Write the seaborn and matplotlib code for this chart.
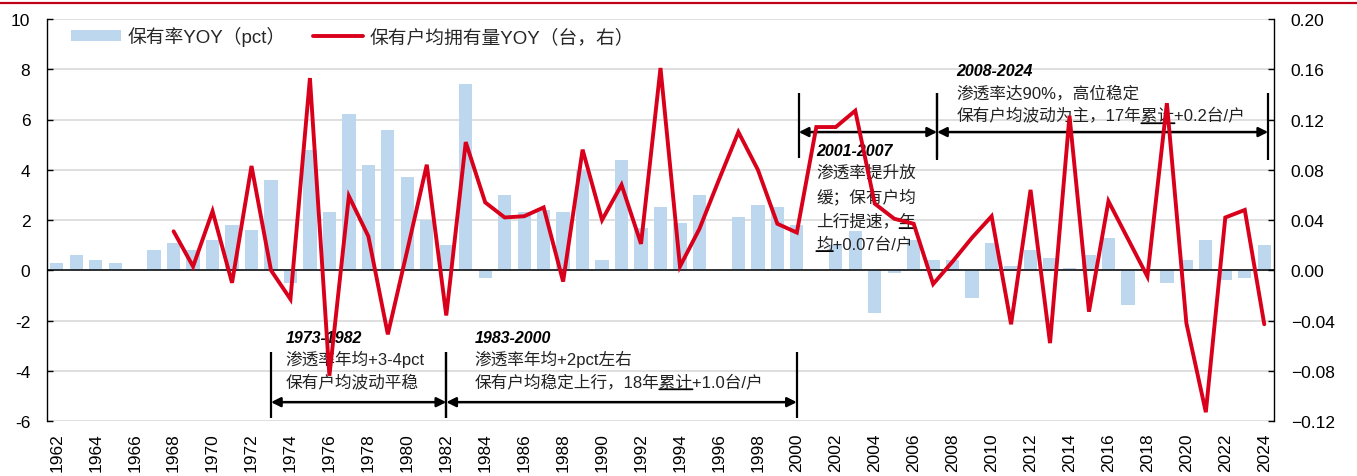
import matplotlib
matplotlib.use("Agg")
import matplotlib.pyplot as plt
import seaborn as sns
import pandas as pd
from matplotlib.patches import Patch
from matplotlib.lines import Line2D
from matplotlib.ticker import FuncFormatter

# ---------------- data ----------------
years = list(range(1962, 2025))
rate_yoy = [0.3, 0.6, 0.4, 0.3, 0.0, 0.8, 1.1, 0.8, 1.2, 1.8,
            1.6, 3.6, -0.5, 4.8, 2.3, 6.2, 4.2, 5.6, 3.7, 2.0,
            1.0, 7.4, -0.3, 3.0, 2.3, 2.4, 2.3, 4.0, 0.4, 4.4,
            1.7, 2.5, 1.9, 3.0, 0.0, 2.1, 2.6, 2.5, 1.8, 0.0,
            1.0, 1.55, -1.7, -0.1, 1.2, 0.4, 0.4, -1.1, 1.1, 0.15,
            0.8, 0.5, 0.1, 0.6, 1.3, -1.4, 0.0, -0.5, 0.4, 1.2,
            -0.4, -0.3, 1.0]

line_years = list(range(1968, 2025))
per_hh_yoy = [0.031, 0.003, 0.047, -0.010, 0.083, 0.000, -0.023, 0.153, -0.084, 0.059,
              0.027, -0.051, 0.016, 0.084, -0.036, 0.102, 0.054, 0.042, 0.043, 0.050,
              -0.009, 0.096, 0.040, 0.068, 0.021, 0.161, 0.003, 0.033, 0.072, 0.110,
              0.080, 0.037, 0.030, 0.114, 0.114, 0.127, 0.053, 0.041, 0.037, -0.011,
              0.007, 0.026, 0.043, -0.043, 0.064, -0.058, 0.123, -0.033, 0.055, 0.025,
              -0.005, 0.133, -0.042, -0.113, 0.042, 0.048, -0.043]

x_ticks = list(range(1962, 2025, 2))
left_ticks = [-6, -4, -2, 0, 2, 4, 6, 8, 10]
right_ticks = [-0.12, -0.08, -0.04, 0.00, 0.04, 0.08, 0.12, 0.16, 0.20]

bar_label = "保有率YOY（pct）"
line_label = "保有户均拥有量YOY（台，右）"

# ---------------- style ----------------
BAR_C = "#BDD7EE"
LINE_C = "#D9001B"
TXT_C = "#222222"

sns.set_theme(style="white")
plt.rcParams["font.family"] = ["Liberation Sans", "Noto Sans CJK SC", "DejaVu Sans"]
plt.rcParams["axes.unicode_minus"] = True

fig = plt.figure(figsize=(13.57, 4.77), dpi=100)
ax = fig.add_axes([47 / 1357, 55 / 477, 1227 / 1357, 402 / 477])

df_bar = pd.DataFrame({"year": years, "rate": rate_yoy})
sns.barplot(data=df_bar, x="year", y="rate", native_scale=True, width=0.68,
            color=BAR_C, saturation=1, errorbar=None, linewidth=0, ax=ax, zorder=2)

ax.set_xlim(1961.5, 2024.5)
ax.set_ylim(-6, 10)
ax.set_yticks(left_ticks)
ax.set_yticklabels([str(v) for v in left_ticks])
ax.grid(axis="y", color="#D9D9D9", lw=1.2)
ax.grid(axis="x", visible=False)
ax.set_axisbelow(True)
ax.axhline(0, color="black", lw=1.1, zorder=3)
ax.set_xticks(x_ticks)
ax.set_xticklabels([str(v) for v in x_ticks], rotation=90)
ax.tick_params(axis="x", length=0, pad=8, labelsize=12.5, colors="black")
ax.tick_params(axis="y", direction="in", length=4, width=1, pad=12,
               labelsize=12.5, colors="black", left=True)
ax.set_xlabel("")
ax.set_ylabel("")
for s in ["top", "bottom", "right"]:
    ax.spines[s].set_visible(False)
ax.spines["left"].set_color("black")
ax.spines["left"].set_linewidth(1)

ax2 = ax.twinx()
sns.lineplot(x=line_years, y=per_hh_yoy, ax=ax2, color=LINE_C, lw=2.8,
             solid_joinstyle="miter")
ax2.set_ylim(-0.12, 0.20)
ax2.set_yticks(right_ticks)
ax2.yaxis.set_major_formatter(FuncFormatter(lambda v, p: f"{v:.2f}".replace("-", "−")))
ax2.tick_params(axis="y", direction="in", length=4, width=1, pad=12,
                labelsize=12.5, colors="black", right=True)
ax2.grid(False)
ax2.set_ylabel("")
for s in ["top", "bottom", "left"]:
    ax2.spines[s].set_visible(False)
ax2.spines["right"].set_color("black")
ax2.spines["right"].set_linewidth(1)

# legend
handles = [Patch(facecolor=BAR_C, edgecolor="none", label=bar_label),
           Line2D([], [], color=LINE_C, lw=2.8, label=line_label)]
ax2.legend(handles=handles, loc="center left", bbox_to_anchor=(0.0196, 0.958),
           ncol=2, frameon=False, fontsize=13.5, handlelength=2.67, handleheight=0.55,
           handletextpad=0.32, columnspacing=1.5, borderpad=0, borderaxespad=0)

# ---------------- annotations ----------------
def bracket(x0, x1, y0, y1, ya):
    ax.vlines([x0, x1], y0, y1, color="black", lw=1.6, zorder=4)
    ax.annotate("", xy=(x1, ya), xytext=(x0, ya),
                arrowprops=dict(arrowstyle="<|-|>", color="black", lw=1.8,
                                shrinkA=0, shrinkB=0, mutation_scale=14), zorder=4)


def title(x, y, s):
    ax.text(x, y, s, ha="left", va="center", fontsize=11.5, fontweight="bold",
            fontstyle="italic", color="black", zorder=4)


def body(x, y, s, underline=None):
    kw = dict(fontsize=12, color=TXT_C, ha="left", va="center")
    t = ax.text(x, y, s, zorder=4, **kw)
    if underline:
        idx = s.index(underline)
        pre = s[:idx]
        if pre:
            p = ax.text(x, y, pre, alpha=0, **kw)
            u = ax.annotate(underline, xy=(1, 0.5), xycoords=p, alpha=0, **kw)
        else:
            u = ax.text(x, y, underline, alpha=0, **kw)
        ax.annotate("", xy=(1, 0.0), xycoords=(u, t), xytext=(0, 0.0),
                    arrowprops=dict(arrowstyle="-", color="black", lw=1.3,
                                    shrinkA=0, shrinkB=0))


bracket(1973, 1982, -3.26, -5.89, -5.25)
bracket(1982, 2000, -3.26, -5.89, -5.25)
bracket(2000.1, 2007.2, 4.46, 7.04, 5.5)
bracket(2007.2, 2024.2, 4.38, 7.04, 5.5)

title(1973.75, -2.67, "1973-1982")
body(1973.75, -3.5, "渗透率年均+3-4pct")
body(1973.75, -4.42, "保有户均波动平稳")

title(1983.45, -2.67, "1983-2000")
body(1983.45, -3.5, "渗透率年均+2pct左右")
body(1983.45, -4.42, "保有户均稳定上行，18年累计+1.0台/户", underline="累计")

title(2001.0, 4.78, "2001-2007")
body(2001.0, 3.9, "渗透率提升放")
body(2001.0, 2.95, "缓；保有户均")
body(2001.0, 1.99, "上行提速，年", underline="年")
body(2001.0, 1.08, "均+0.07台/户", underline="均")

title(2008.2, 7.96, "2008-2024")
body(2008.2, 7.08, "渗透率达90%，高位稳定")
body(2008.2, 6.17, "保有户均波动为主，17年累计+0.2台/户", underline="累计")

# top red rule
fig.add_artist(Line2D([0, 1], [1 - 3.5 / 477] * 2, transform=fig.transFigure,
                      color="#C00018", lw=1.6))

fig.savefig("out.png", dpi=100)
